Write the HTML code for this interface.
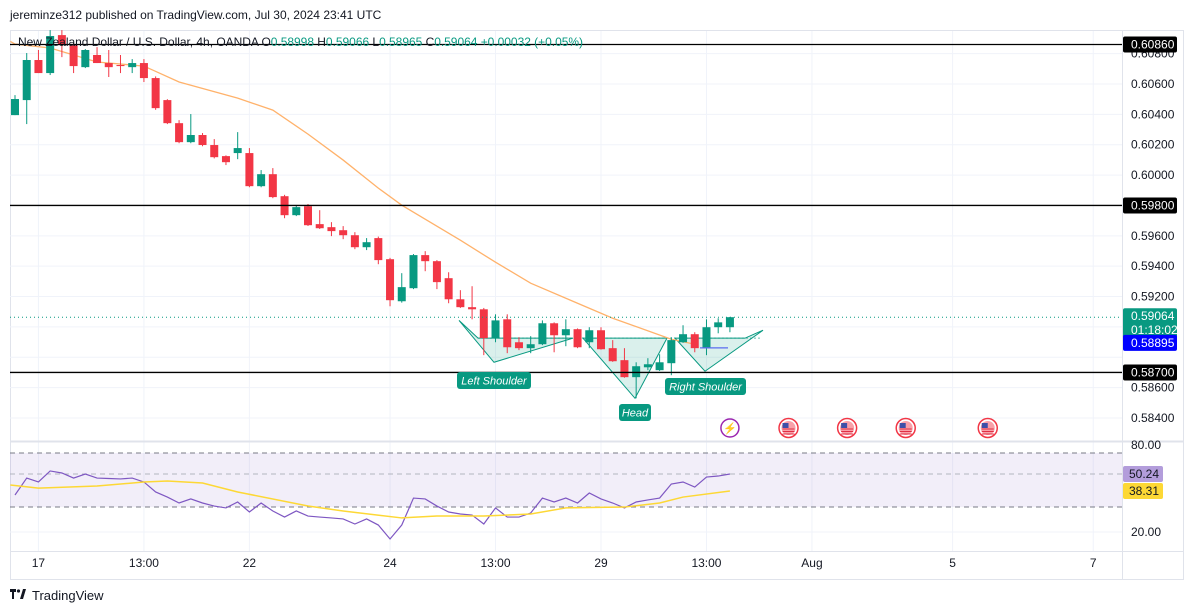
<!DOCTYPE html>
<html><head><meta charset="utf-8">
<style>
html,body{margin:0;padding:0;background:#fff;width:1195px;height:613px;overflow:hidden;font-family:"Liberation Sans",sans-serif;}
svg{display:block}
text{font-family:"Liberation Sans",sans-serif}
</style></head>
<body>
<svg id="chart" width="1195" height="613" viewBox="0 0 1195 613" xmlns="http://www.w3.org/2000/svg">
<text x="10" y="19" font-size="12" fill="#131722">jereminze312 published on TradingView.com, Jul 30, 2024 23:41 UTC</text>
<rect x="10.5" y="30.5" width="1173" height="549" fill="none" stroke="#e0e3eb"/>
<g id="grid"></g>
<g id="rsiPane"></g>
<g id="pattern"></g>
<g id="candles"></g>
<g id="overlay"></g>
<g id="axes"></g>
<text x="18" y="46" font-size="12" fill="#131722" textLength="565">New Zealand Dollar / U.S. Dollar, 4h, OANDA  O<tspan fill="#089981">0.58998</tspan>  H<tspan fill="#089981">0.59066</tspan>  L<tspan fill="#089981">0.58965</tspan>  C<tspan fill="#089981">0.59064  +0.00032 (+0.05%)</tspan></text>
<g>
<rect x="10" y="589" width="6" height="3" fill="#131722"/><rect x="12" y="589" width="2" height="10" fill="#131722"/><circle cx="18.5" cy="591" r="1.6" fill="#131722"/><polygon points="20,599 23,589 26,589 23,599" fill="#131722"/>
<text x="32" y="600" font-size="13" fill="#131722">TradingView</text></g>
</svg>
<script>
const ohlc = [
[0.60395,0.60527,0.60395,0.60501],[0.60494,0.60804,0.60336,0.60758],[0.60758,0.60824,0.60672,0.60672],[0.60672,0.60955,0.60659,0.60916],
[0.60922,0.60955,0.60777,0.60856],[0.60856,0.60870,0.60672,0.60718],[0.60711,0.60830,0.60705,0.60824],[0.60791,0.60843,0.60738,0.60738],
[0.60738,0.60824,0.60646,0.60711],[0.60725,0.60791,0.60672,0.60718],[0.60711,0.60764,0.60672,0.60738],[0.60738,0.60764,0.60613,0.60639],
[0.60639,0.60650,0.60430,0.60441],[0.60494,0.60500,0.60336,0.60342],[0.60342,0.60362,0.60210,0.60217],[0.60217,0.60402,0.60210,0.60264],
[0.60264,0.60277,0.60190,0.60198],[0.60198,0.60237,0.60110,0.60118],[0.60125,0.60130,0.60066,0.60085],[0.60145,0.60283,0.60105,0.60178],
[0.60145,0.60178,0.59920,0.59927],[0.59927,0.60033,0.59920,0.60006],[0.60006,0.60046,0.59848,0.59855],[0.59861,0.59870,0.59716,0.59736],
[0.59736,0.59800,0.59730,0.59789],[0.59795,0.59810,0.59665,0.59670],[0.59677,0.59769,0.59645,0.59650],[0.59657,0.59690,0.59598,0.59631],
[0.59637,0.59664,0.59578,0.59604],[0.59604,0.59624,0.59512,0.59525],[0.59525,0.59585,0.59506,0.59558],[0.59585,0.59595,0.59413,0.59440],
[0.59446,0.59455,0.59136,0.59176],[0.59169,0.59354,0.59160,0.59262],[0.59255,0.59480,0.59249,0.59473],[0.59473,0.59499,0.59367,0.59433],
[0.59433,0.59440,0.59249,0.59295],[0.59321,0.59360,0.59156,0.59182],[0.59182,0.59242,0.59125,0.59130],[0.59130,0.59268,0.59050,0.59116],
[0.59116,0.59125,0.58814,0.58926],[0.58926,0.59083,0.58899,0.59043],[0.59050,0.59083,0.58827,0.58866],[0.58899,0.58932,0.58847,0.58860],
[0.58860,0.58939,0.58827,0.58886],[0.58886,0.59043,0.58880,0.59024],[0.59024,0.59030,0.58833,0.58945],[0.58945,0.59050,0.58873,0.58985],
[0.58985,0.58990,0.58860,0.58866],[0.58899,0.58998,0.58860,0.58978],[0.58978,0.58998,0.58850,0.58853],[0.58860,0.58913,0.58770,0.58774],
[0.58781,0.58860,0.58665,0.58669],[0.58669,0.58767,0.58530,0.58741],[0.58734,0.58794,0.58715,0.58754],[0.58715,0.58820,0.58710,0.58767],
[0.58761,0.58932,0.58682,0.58913],[0.58899,0.59011,0.58895,0.58952],[0.58952,0.58965,0.58833,0.58860],[0.58860,0.59050,0.58814,0.58998],
[0.58998,0.59057,0.58958,0.59030],[0.58998,0.59066,0.58965,0.59064]
];
const maIdx = [-0.4,0,3,7,11,14,19,22,25,28,31,33,38,41,44,48,51,56,58];
const maVal = [0.60880,0.60863,0.60837,0.60745,0.60718,0.60613,0.60507,0.60428,0.60270,0.60099,0.59914,0.59802,0.59571,0.59426,0.59288,0.59156,0.59057,0.58919,0.58886];
const rsiVal = [45.5,57.2,54.5,62.1,60.7,57.2,60,57.2,56.9,56.6,57.2,54.5,47.6,44.1,40,42.8,40,37.9,36.6,40.7,33.8,40,34.5,30.3,34.5,31,30.3,29.7,29,25.5,29,24.8,15.2,24.8,43.4,42.8,37.9,33.8,32.4,31.7,25.5,36.6,30.3,30.3,33.1,43.4,40.7,43.4,40,46.9,42.8,40,36.6,40.7,42.1,43.4,53.1,54.5,51,57.9,58.6,60];
const rsiMaIdx = [-0.4,2,7,11,13,16,19,25,28,33,36,40,44,47,52,55,57,61];
const rsiMaVal = [52.4,50.3,51.7,54.5,55.2,53.8,47.6,37.9,34.5,29.7,31,31,32.4,36.6,37.2,40,44.1,48.3];
const priceTicks = [0.608,0.606,0.604,0.602,0.600,0.596,0.594,0.592,0.586,0.584];
const levels = [0.60860,0.59800,0.58700];
const lastPrice = 0.59064, bluePrice = 0.58895;
const rsiTicks = [80,20];
const rsiBands = [74.5,60,37.2];
const timeIdx = [2,11,20,32,41,50,59,68,80,92];
const timeLabels = ["17","13:00","22","24","13:00","29","13:00","Aug","5","7"];
const eventIdx = [61,66,71,76,83];

const NS="http://www.w3.org/2000/svg";
function mk(tag,attrs,parent,txt){const e=document.createElementNS(NS,tag);for(const k in attrs)e.setAttribute(k,attrs[k]);if(txt!==undefined)e.textContent=txt;parent.appendChild(e);return e;}
const X=i=>15+i*11.72;
const Y=p=>84+(0.606-p)*15182;
const RY=v=>488.5-(v-50)*1.45;
const L=10,R=1122;
const grid=document.getElementById('grid'),cg=document.getElementById('candles'),ov=document.getElementById('overlay'),ax=document.getElementById('axes'),rp=document.getElementById('rsiPane'),pt=document.getElementById('pattern');

for(let p=0.608;p>0.5835;p-=0.002){const g=mk('line',{x1:L,x2:R,y1:Y(p),y2:Y(p),stroke:'#f0f3fa'},grid);}
timeIdx.forEach(i=>{const g=mk('line',{x1:X(i),x2:X(i),y1:31,y2:551,stroke:'#f0f3fa'},grid);});
mk('line',{x1:L,x2:1183,y1:441.5,y2:441.5,stroke:'#e0e3eb',"stroke-width":2},grid);
mk('line',{x1:L,x2:1183,y1:551.5,y2:551.5,stroke:'#e0e3eb'},grid);
mk('line',{x1:R+0.5,x2:R+0.5,y1:31,y2:579,stroke:'#e0e3eb'},grid);
mk('line',{x1:L,x2:R,y1:RY(20),y2:RY(20),stroke:'#f0f3fa'},grid);

const bu=RY(rsiBands[0]),bm=RY(rsiBands[1]),bl=RY(rsiBands[2]);
let bandRect=mk('rect',{x:L,y:bu,width:R-L,height:bl-bu,fill:'rgba(126,87,194,0.1)'},rp);

[bu,bl].forEach(y=>mk('line',{x1:L,x2:R,y1:y,y2:y,stroke:'#787b86',"stroke-dasharray":'5,4'},rp));
mk('line',{x1:L,x2:R,y1:bm,y2:bm,stroke:'#b2b5be',"stroke-dasharray":'5,4'},rp);
let rl=mk('polyline',{points:rsiVal.map((v,i)=>X(i)+','+RY(v)).join(' '),fill:'none',stroke:'#7e57c2',"stroke-width":1.2},rp);

let rml=mk('polyline',{points:rsiMaIdx.map((v,k)=>X(v)+','+RY(rsiMaVal[k])).join(' '),fill:'none',stroke:'#fdd835',"stroke-width":1.5},rp);


function poly(pts,name){const e=mk('polygon',{points:pts.map(p=>p.join(',')).join(' '),fill:'rgba(8,153,129,0.15)',stroke:'#089981',"stroke-width":1},pt);}
const neck=Y(0.58926);
poly([[459,Y(0.59043)],[494,Y(0.58767)],[573,neck],[478,neck]],'left-shoulder-shape');
poly([[583,neck],[635,Y(0.58530)],[667,neck]],'head-shape');
poly([[675,neck],[705,Y(0.58708)],[763,Y(0.58978)],[745,neck]],'right-shoulder-shape');
mk('line',{x1:478,x2:760,y1:neck,y2:neck,stroke:'#089981',"stroke-dasharray":'2,2',opacity:0.6},pt);

let ma=mk('polyline',{points:maIdx.map((v,k)=>X(v)+','+Y(maVal[k])).join(' '),fill:'none',stroke:'#ffb26b',"stroke-width":1.3},cg);


ohlc.forEach((c,i)=>{
 const [o,h,l,cl]=c, up=cl>=o, col=up?'#089981':'#f23645', x=X(i);
 const g=mk('g',{},cg);
 
 
 mk('line',{x1:x,x2:x,y1:Y(h),y2:Y(l),stroke:col,"stroke-width":1},g);
 const t=Y(Math.max(o,cl)),b=Y(Math.min(o,cl));
 mk('rect',{x:x-4,y:t,width:8,height:Math.max(1,b-t),fill:col},g);
});

levels.forEach(p=>{const e=mk('line',{x1:L,x2:R,y1:Y(p),y2:Y(p),stroke:'#000',"stroke-width":1.3},ov);});
mk('line',{x1:L,x2:R,y1:Y(lastPrice),y2:Y(lastPrice),stroke:'#089981',"stroke-dasharray":'1,3'},ov);
mk('line',{x1:700,x2:728,y1:Y(bluePrice)+5,y2:Y(bluePrice)+5,stroke:'#5b6cf0',"stroke-width":1.2},ov);

function tag(x,y,w,txt,name){const g=mk('g',{},ov);
 mk('rect',{x:x,y:y,width:w,height:17,rx:3,fill:'#089981'},g);
 mk('text',{x:x+w/2,y:y+12.5,"font-size":11,fill:'#fff',"text-anchor":'middle',"font-style":'italic'},g,txt);}
tag(457,372,74,'Left Shoulder','left-shoulder-label');
tag(619,404,32,'Head','head-label');
tag(665,378,81,'Right Shoulder','right-shoulder-label');

eventIdx.forEach((i,k)=>{const g=mk('g',{},ov);
 const x=X(i),y=428;
 if(k==0){mk('circle',{cx:x,cy:y,r:9,fill:'#fff',stroke:'#9c27b0',"stroke-width":1.5},g);mk('text',{x:x,y:y+4,"font-size":11,fill:'#9c27b0',"text-anchor":'middle',"font-weight":'bold'},g,'⚡');}
 else{mk('circle',{cx:x,cy:y,r:9.5,fill:'#fff',stroke:'#f23645',"stroke-width":1.5},g);mk('circle',{cx:x,cy:y,r:7,fill:'#f9a0a8'},g);mk('rect',{x:x-6,y:y-5,width:6,height:5,fill:'#3e4fa8'},g);
  for(let s=0;s<3;s++)mk('line',{x1:x-6,x2:x+6,y1:y+1+s*2.5,y2:y+1+s*2.5,stroke:'#e02f45',"stroke-width":1},g);}
});

priceTicks.forEach(p=>{const t=mk('text',{x:1131,y:Y(p)+4,"font-size":12,fill:'#131722'},ax,p.toFixed(5));});
function box(y,h,fill,txt,col,name,txt2){const g=mk('g',{},ax);
 mk('rect',{x:1123,y:y,width:54,height:h,rx:2,fill:fill},g);
 mk('text',{x:1131,y:y+12,"font-size":12,fill:col},g,txt);
 if(txt2)mk('text',{x:1131,y:y+26,"font-size":12,fill:col},g,txt2);}
levels.forEach(p=>box(Y(p)-8,16,'#000',p.toFixed(5),'#fff','level-price-label'));
box(Y(lastPrice)-9,32,'#089981',lastPrice.toFixed(5),'#fff','last-price-label','01:18:02');
box(Y(bluePrice)-8,16,'#0000ff',bluePrice.toFixed(5),'#fff','line-price-label');
rsiTicks.forEach(v=>{const t=mk('text',{x:1131,y:RY(v)+4,"font-size":12,fill:'#131722'},ax,v.toFixed(2));});
function rbox(v,fill,col,txt,name){const g=mk('g',{},ax);const y=RY(v);
 mk('rect',{x:1123,y:y-8,width:40,height:16,rx:2,fill:fill},g);mk('text',{x:1129,y:y+4,"font-size":12,fill:col},g,txt);}
rbox(rsiVal[rsiVal.length-1],'#b39ddb','#131722','50.24','rsi-value-label');
rbox(rsiMaVal[rsiMaVal.length-1],'#fdd835','#131722','38.31','rsi-ma-value-label');

timeIdx.forEach((i,k)=>{const t=mk('text',{x:X(i),y:567,"font-size":12,fill:'#131722',"text-anchor":'middle'},ax,timeLabels[k]);});
</script>
</body></html>
